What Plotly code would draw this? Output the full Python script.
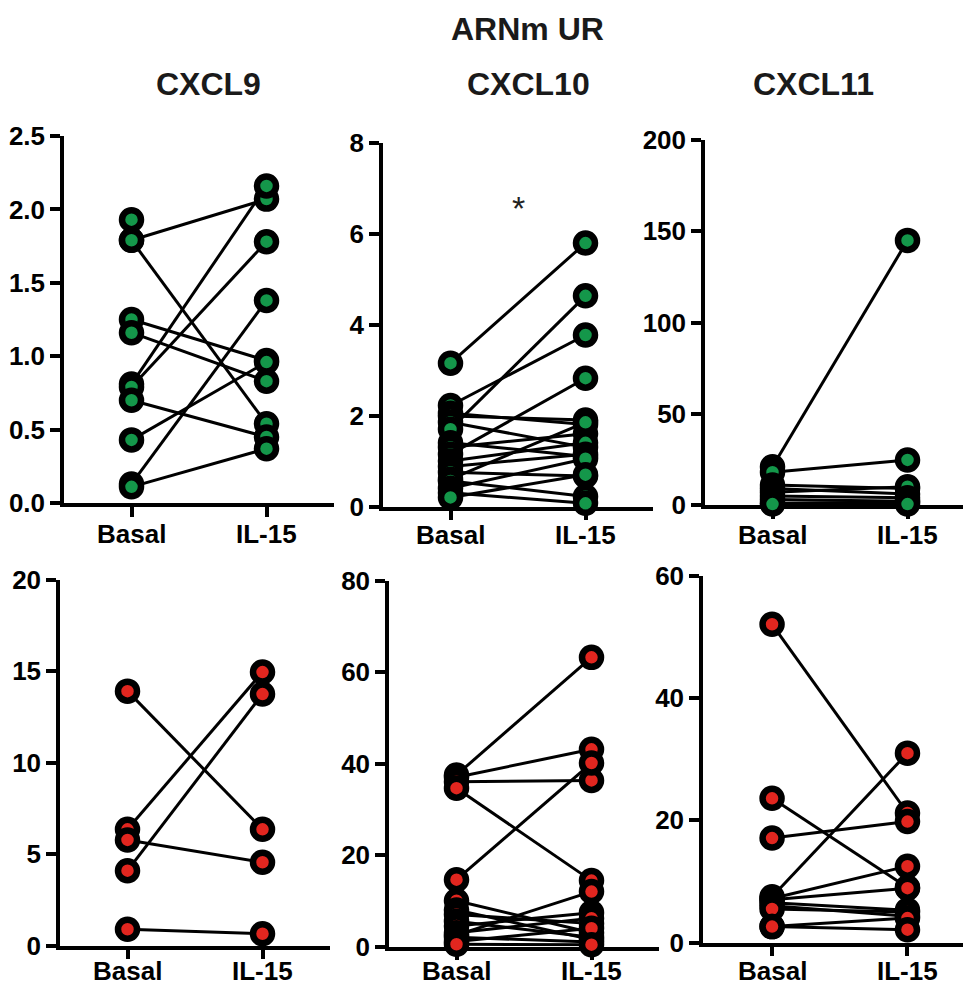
import plotly.graph_objects as go

W, H = 963, 985

categories = ["Basal", "IL-15"]

# Top row (green) - CXCL9, CXCL10, CXCL11
cxcl9_basal = [1.93, 1.79, 1.79, 1.25, 1.16, 0.81, 0.79, 0.70, 0.43, 0.13, 0.11]
cxcl9_il15 = [None, 2.07, 0.54, 0.97, 0.83, 2.16, 1.78, 0.45, 0.96, 1.38, 0.37]

cxcl10_basal = [3.15, 2.22, 2.05, 1.99, 1.85, 1.70, 1.40, 1.30, 1.15, 1.00, 0.88, 0.75, 0.60, 0.56, 0.40, 0.30, 0.20]
cxcl10_il15 = [5.79, 3.77, 1.80, 1.90, 1.30, 4.63, 1.10, 1.60, 2.82, 1.40, 1.15, 0.67, 1.85, 0.22, 1.05, 0.07, 0.70]

cxcl11_basal = [21, 18, 11, 9, 7, 5, 3, 1, 0.5]
cxcl11_il15 = [145, 24.7, 9, 6, 10, 4, 2, 1.5, 0.5]

# Bottom row (red)
b_cxcl9_basal = [13.9, 6.35, 4.09, 5.77, 0.89]
b_cxcl9_il15 = [6.35, 14.94, 13.74, 4.55, 0.64]

b_cxcl10_basal = [37.5, 37.0, 36.0, 34.6, 14.6, 10.0, 8.0, 7.0, 5.5, 4.5, 3.0, 2.5, 2.0, 1.1, 0.5]
b_cxcl10_il15 = [63.2, 43.1, 36.3, 14.4, 40.1, 3.0, 1.5, 5.0, 2.0, 7.4, 6.2, 12.0, 1.0, 4.0, 0.4]

b_cxcl11_basal = [52.1, 23.6, 17.1, 7.5, 7.2, 7.0, 6.5, 6.0, 5.5, 2.6, 2.6]
b_cxcl11_il15 = [21.2, 9.0, 19.8, 31.0, 12.5, 8.9, 5.3, 4.3, 5.0, 4.0, 2.1]

panel_titles = ["CXCL9", "CXCL10", "CXCL11"]
main_title = "ARNm UR"

yticks = [
    [0.0, 0.5, 1.0, 1.5, 2.0, 2.5],
    [0, 2, 4, 6, 8],
    [0, 50, 100, 150, 200],
    [0, 5, 10, 15, 20],
    [0, 20, 40, 60, 80],
    [0, 20, 40, 60],
]

GREEN = "#14974a"
RED = "#e2261f"

panels = [
    (cxcl9_basal, cxcl9_il15, GREEN),
    (cxcl10_basal, cxcl10_il15, GREEN),
    (cxcl11_basal, cxcl11_il15, GREEN),
    (b_cxcl9_basal, b_cxcl9_il15, RED),
    (b_cxcl10_basal, b_cxcl10_il15, RED),
    (b_cxcl11_basal, b_cxcl11_il15, RED),
]

# pixel geometry: (x_left, x_right, xrange, y_zero_px, y_top_px, label_top_px)
geom = [
    (64, 334, [-0.5, 1.5], 503, 136, 517),
    (383, 653, [-0.5, 1.5], 506.5, 142.5, 518),
    (705, 963, [-0.5, 1.411], 505, 140, 518),
    (60, 330, [-0.5, 1.5], 945.5, 579.5, 954),
    (389, 659, [-0.5, 1.5], 946.5, 580.5, 954),
    (703, 963, [-0.51, 1.41], 942.5, 576, 954),
]

FONT = "Liberation Sans, Arial, sans-serif"

fig = go.Figure()
layout = dict(
    width=W, height=H, autosize=False,
    margin=dict(l=0, r=0, t=0, b=0, pad=0, autoexpand=False),
    paper_bgcolor="white", plot_bgcolor="white",
    showlegend=False,
    font=dict(family=FONT, color="black"),
)
annotations = []

for i, ((bas, il, col), (xl, xr, xrng, y0, y1, lt)) in enumerate(zip(panels, geom)):
    n = i + 1
    xa = "x" if n == 1 else f"x{n}"
    ya = "y" if n == 1 else f"y{n}"
    lx, ly = [], []
    for b, v in zip(bas, il):
        if b is not None and v is not None:
            lx += [0, 1, None]
            ly += [b, v, None]
    fig.add_trace(go.Scatter(x=lx, y=ly, mode="lines", xaxis=xa, yaxis=ya,
                             line=dict(color="black", width=3), cliponaxis=False,
                             hoverinfo="skip"))
    mx = [0 for b in bas if b is not None] + [1 for v in il if v is not None]
    my = [b for b in bas if b is not None] + [v for v in il if v is not None]
    fig.add_trace(go.Scatter(x=mx, y=my, mode="markers", xaxis=xa, yaxis=ya,
                             marker=dict(color=col, size=19, line=dict(color="black", width=6.5)),
                             cliponaxis=False))
    yt = yticks[i]
    common = dict(showline=True, linecolor="black", linewidth=3.5, ticks="outside",
                  ticklen=10, tickwidth=3.5, tickcolor="black", showgrid=False,
                  zeroline=False, layer="below traces", fixedrange=True, automargin=False)
    layout["xaxis" if n == 1 else f"xaxis{n}"] = dict(
        common, domain=[xl / W, xr / W], range=xrng, anchor=ya,
        tickvals=[0, 1], showticklabels=False)
    layout["yaxis" if n == 1 else f"yaxis{n}"] = dict(
        common, domain=[1 - y0 / H, 1 - y1 / H], range=[yt[0], yt[-1]], anchor=xa,
        tickvals=yt, ticktext=[("%.1f" % t) if i == 0 else str(t) for t in yt],
        tickfont=dict(family=FONT, size=26, weight="bold", color="black"))
    for k, cat in enumerate(categories):
        annotations.append(dict(text=cat, x=k, xref=xa, y=1 - lt / H, yref="paper",
                                showarrow=False, xanchor="center", yanchor="top",
                                font=dict(family=FONT, size=26, weight="bold", color="black")))

annotations.append(dict(text=main_title, x=527 / W, y=1 - 29 / H, xref="paper", yref="paper",
                        showarrow=False, xanchor="center", yanchor="middle",
                        font=dict(family=FONT, size=32, weight="bold", color="#1a1a1a")))
for t, cx in zip(panel_titles, [208, 528, 813]):
    annotations.append(dict(text=t, x=cx / W, y=1 - 84 / H, xref="paper", yref="paper",
                            showarrow=False, xanchor="center", yanchor="middle",
                            font=dict(family=FONT, size=32, weight="bold", color="#1a1a1a")))
annotations.append(dict(text="*", x=0.5, y=6.55, xref="x2", yref="y2", showarrow=False,
                        xanchor="center", yanchor="middle",
                        font=dict(family=FONT, size=34, color="#222222")))
layout["annotations"] = annotations
fig.update_layout(**layout)
fig.write_html("out.html")
